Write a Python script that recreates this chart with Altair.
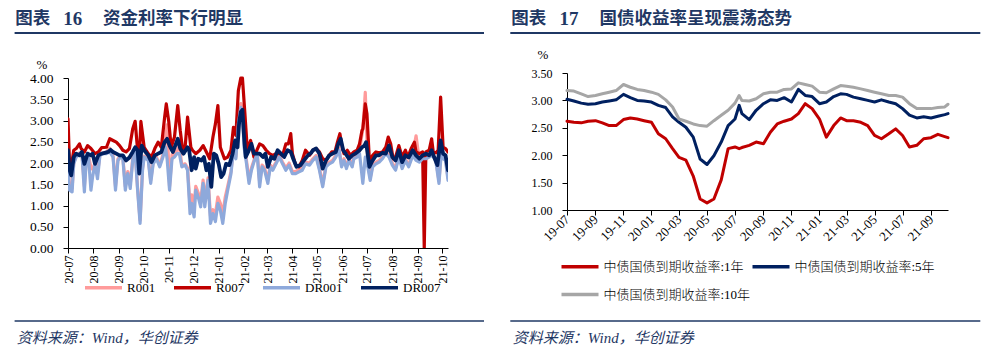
import altair as alt
import pandas as pd

# ---------------- fonts / colours ----------------
SERIF = "Liberation Serif"
MIXED = "Liberation Serif, Noto Sans CJK SC"
CJK = "Noto Sans CJK SC"
BLUE = "#1F3864"

# ---------------- texts ----------------
LEFT_TITLE_LABEL = "图表"
LEFT_TITLE_NUM = "16"
LEFT_TITLE_TEXT = "资金利率下行明显"
RIGHT_TITLE_LABEL = "图表"
RIGHT_TITLE_NUM = "17"
RIGHT_TITLE_TEXT = "国债收益率呈现震荡态势"
SOURCE_TEXT = "资料来源：Wind，华创证券"
UNIT = "%"

# ---------------- left panel data (days since 2020-07-01) ----------------
LEFT_START = "2020-07-01"
LEFT_END = "2021-10-08"
LEFT_SERIES = ["R001", "R007", "DR001", "DR007"]
LEFT_COLORS = ["#FF9B9B", "#C00000", "#8EA9DB", "#002060"]
LEFT_TICK_MONTHS = ["2020-07", "2020-08", "2020-09", "2020-10", "2020-11", "2020-12",
                    "2021-01", "2021-02", "2021-03", "2021-04", "2021-05", "2021-06",
                    "2021-07", "2021-08", "2021-09", "2021-10"]
LEFT_Y_TICKS = [0.0, 0.5, 1.0, 1.5, 2.0, 2.5, 3.0, 3.5, 4.0]

R007_DAYS = [0, 2, 4, 7, 10, 14, 16, 20, 24, 28, 33, 37, 41, 47, 51, 55, 59, 63, 67, 71,
             75, 79, 82, 85, 87, 89, 93, 98, 102, 106, 110, 114, 118, 120, 123, 126, 130, 134, 137, 140,
             143, 146, 150, 152, 156, 161, 165, 169, 173, 177, 180, 183, 186, 191, 195, 199, 202, 205, 208, 211,
             213, 216, 219, 223, 227,
             234, 238, 242, 246, 250, 254, 258, 262, 266, 269, 272, 274, 278, 282, 286, 290, 295, 299, 303, 307,
             311, 315, 319, 322, 326, 329, 332, 334, 337, 341, 345, 349, 353, 356, 359, 360, 363, 365, 368, 372,
             376, 380, 384, 388, 391, 394, 397, 400, 404, 408, 412, 415, 419, 423, 425, 429, 433, 435, 437, 441,
             444, 446, 449, 452, 455, 458, 461, 464]
R007_VALS = [3.04, 1.90, 1.91, 2.30, 2.34, 2.45, 2.34, 2.26, 2.41, 2.34, 2.22, 2.26, 2.36, 2.37, 2.57, 2.53, 2.49, 2.41, 2.30, 2.26,
             2.34, 2.80, 2.98, 2.30, 2.06, 2.98, 2.37, 2.22, 2.14, 2.34, 2.49, 2.37, 3.08, 3.39, 2.98, 2.37, 2.61, 3.35, 2.77, 2.30,
             2.37, 3.08, 2.37, 2.30, 2.22, 2.30, 2.41, 2.26, 2.10, 2.61, 2.92, 3.35, 2.37, 2.10, 2.14, 2.30, 2.84, 2.65, 3.70, 4.00,
             4.00, 3.16, 2.30, 2.53, 2.14,
             2.45, 2.41, 2.30, 2.22, 2.18, 2.22, 2.22, 2.18, 2.45, 2.45, 2.69, 2.22, 1.95, 1.91, 2.06, 2.30, 2.18, 2.30, 2.34, 2.26,
             2.10, 2.06, 2.18, 2.26, 2.26, 2.49, 2.69, 2.45, 2.22, 2.30, 2.18, 2.26, 2.30, 2.45, 2.77, 2.80, 3.39, 3.16, 2.06, 2.18,
             2.26, 2.24, 2.26, 2.37, 2.61, 2.45, 2.10, 2.14, 2.41, 2.14, 2.30, 2.14, 2.34, 2.49, 2.26, 2.22, 2.26, 0.00, 2.26, 2.30,
             2.57, 2.26, 2.24, 2.30, 3.55, 2.37, 2.34, 2.26]

DR007_DAYS = [0, 2, 4, 7, 10, 14, 17, 20, 24, 28, 30, 33, 37, 41, 45, 49, 52, 55, 59, 63,
              67, 71, 75, 79, 82, 85, 87, 90, 93, 98, 102, 106, 110, 114, 118, 121, 124, 128, 131, 134,
              137, 141, 146, 148, 151, 154, 156, 159, 163, 166, 169, 172, 175, 178, 181, 184, 187, 190, 193, 197,
              201, 204, 207, 209, 211, 213, 215, 217, 220, 224, 227, 231,
              234, 238, 241, 244, 248, 252, 256, 260, 264, 268, 272, 275, 279, 284, 288, 293, 297, 299, 303, 307,
              311, 315, 319, 323, 327, 330, 333, 336, 339, 343, 347, 351, 356, 359, 362, 364, 368, 372, 376, 380,
              384, 388, 392, 396, 400, 404, 408, 412, 416, 421, 425, 429, 433, 437, 441, 444, 447, 451, 455, 458,
              461, 464]
DR007_VALS = [2.30, 1.83, 1.71, 2.14, 2.22, 2.18, 2.26, 1.98, 2.22, 2.18, 2.22, 1.98, 2.18, 2.22, 2.24, 2.26, 2.31, 2.26, 2.22, 2.18,
              2.18, 2.06, 2.13, 2.26, 2.37, 2.30, 1.75, 2.41, 2.30, 2.18, 2.02, 2.18, 2.22, 2.26, 2.49, 2.57, 2.41, 2.26, 2.41, 2.57,
              2.34, 2.22, 2.37, 2.30, 1.83, 2.14, 1.87, 2.10, 2.06, 2.14, 1.83, 1.98, 1.44, 2.22, 2.18, 1.98, 1.67, 1.75, 1.98, 1.95,
              2.22, 2.53, 2.37, 2.96, 3.20, 3.25, 2.61, 2.14, 2.26, 2.45, 2.22, 2.22,
              2.22, 2.14, 2.22, 1.91, 2.14, 2.10, 2.30, 2.22, 2.14, 2.30, 2.26, 2.10, 1.91, 1.95, 2.06, 2.18, 2.24, 2.30, 2.34, 2.22,
              1.87, 2.06, 2.18, 2.22, 2.26, 2.45, 2.57, 2.30, 2.22, 2.10, 2.18, 2.22, 2.30, 2.37, 2.41, 2.49, 1.91, 2.06, 2.18, 2.18,
              2.24, 2.22, 2.41, 2.14, 2.06, 2.30, 2.02, 2.18, 2.13, 2.30, 2.18, 2.10, 2.18, 2.22, 2.18, 2.30, 2.14, 1.95, 2.53, 2.22,
              2.18, 1.83]

DR001_DAYS = [0, 2, 5, 7, 10, 12, 14, 17, 20, 22, 25, 28, 30, 33, 36, 39, 43, 47, 51, 55,
              58, 61, 64, 67, 70, 73, 76, 79, 82, 85, 88, 91, 93, 98, 101, 104, 108, 112, 116, 119,
              121, 124, 127, 130, 133, 136, 139, 143, 146, 149, 151, 154, 156, 159, 162, 165, 167, 171, 174, 177,
              180, 183, 186, 189, 192, 195, 199, 202, 205, 208, 211, 213, 215, 218, 221, 224, 227, 231,
              234, 237, 240, 244, 247, 250, 254, 258, 262, 266, 270, 274, 278, 282, 286, 290, 295, 299, 303, 307,
              311, 315, 319, 323, 327, 331, 334, 337, 340, 343, 347, 349, 353, 356, 360, 363, 366, 369, 372, 376,
              380, 384, 388, 392, 396, 400, 404, 408, 412, 416, 421, 425, 429, 433, 437, 441, 445, 449, 453, 456,
              458, 461, 464]
DR001_VALS = [1.83, 1.36, 1.32, 1.98, 2.14, 2.18, 2.22, 2.22, 1.32, 1.98, 2.14, 1.36, 1.67, 1.98, 1.63, 2.18, 2.22, 2.22, 2.26, 2.14,
              1.36, 2.06, 2.14, 2.10, 1.36, 1.75, 1.40, 2.06, 2.26, 1.36, 0.58, 1.83, 2.14, 2.06, 1.52, 1.98, 2.10, 1.91, 2.14, 2.37,
              2.10, 1.36, 2.10, 2.14, 2.22, 2.22, 1.91, 1.95, 1.83, 0.81, 1.05, 0.73, 1.36, 1.20, 0.97, 1.52, 0.97, 1.59, 0.58, 0.81,
              0.62, 1.05, 0.89, 0.58, 1.05, 1.36, 1.75, 2.30, 2.10, 2.92, 3.31, 3.16, 2.37, 1.98, 1.52, 1.83, 2.02, 2.22,
              1.44, 1.91, 1.83, 1.52, 1.91, 1.83, 1.98, 2.14, 1.98, 1.83, 1.95, 1.75, 1.75, 1.79, 1.83, 1.98, 1.95, 2.06, 2.14, 1.83,
              1.44, 1.91, 1.98, 2.02, 2.14, 2.30, 1.91, 2.06, 1.87, 2.06, 1.91, 2.10, 2.14, 2.22, 1.52, 2.14, 1.91, 1.59, 1.91, 1.98,
              2.02, 2.10, 2.22, 2.14, 1.95, 1.83, 2.14, 1.87, 2.06, 1.91, 2.18, 2.06, 2.02, 2.10, 2.10, 2.14, 2.18, 2.06, 1.52, 2.30,
              2.10, 2.06, 1.59]

R001_DAYS = DR001_DAYS
R001_VALS = [1.90, 1.45, 1.40, 2.00, 2.16, 2.20, 2.24, 2.24, 1.45, 2.00, 2.16, 1.90, 1.85, 2.00, 1.75, 2.20, 2.24, 2.26, 2.35, 2.18,
             1.45, 2.10, 2.16, 2.14, 1.45, 1.80, 1.50, 2.10, 2.30, 1.40, 0.65, 1.88, 2.16, 2.10, 1.60, 2.02, 2.14, 1.95, 2.20, 2.60,
             2.90, 1.45, 2.20, 2.18, 2.30, 2.40, 1.95, 1.98, 1.88, 1.00, 1.25, 1.05, 1.45, 1.30, 1.10, 1.60, 1.10, 1.65, 0.75, 0.90,
             0.80, 1.20, 1.05, 0.80, 1.20, 1.45, 1.80, 2.35, 2.15, 3.00, 3.40, 3.25, 2.45, 2.05, 1.60, 1.88, 2.06, 2.25,
             1.55, 1.95, 1.88, 1.60, 1.95, 1.88, 2.02, 2.18, 2.02, 1.88, 2.00, 1.80, 1.80, 1.85, 1.88, 2.02, 2.00, 2.10, 2.18, 1.88,
             1.50, 1.95, 2.02, 2.06, 2.18, 2.35, 1.95, 2.10, 1.92, 2.10, 1.95, 2.14, 2.18, 2.30, 2.80, 3.66, 2.00, 1.65, 1.95, 2.02,
             2.06, 2.14, 2.26, 2.18, 2.00, 1.88, 2.18, 1.92, 2.10, 1.95, 2.22, 2.64, 2.06, 2.14, 2.14, 2.18, 2.22, 2.10, 1.58, 2.35,
             2.15, 2.10, 1.65]

# ---------------- right panel data ----------------
RIGHT_END = "2021-10-08"
RIGHT_SERIES = ["中债国债到期收益率:1年", "中债国债到期收益率:5年", "中债国债到期收益率:10年"]
RIGHT_COLORS = ["#C00000", "#002060", "#A6A6A6"]
RIGHT_TICK_MONTHS = ["2019-07", "2019-09", "2019-11", "2020-01", "2020-03", "2020-05", "2020-07",
                     "2020-09", "2020-11", "2021-01", "2021-03", "2021-05", "2021-07", "2021-09"]
RIGHT_Y_TICKS = [1.0, 1.5, 2.0, 2.5, 3.0, 3.5]
RIGHT_DATES = ["2019-07-01", "2019-07-16", "2019-08-01", "2019-08-16", "2019-09-01", "2019-09-16",
               "2019-10-01", "2019-10-16", "2019-11-01", "2019-11-16", "2019-12-01", "2019-12-16",
               "2020-01-01", "2020-01-16", "2020-02-01", "2020-02-16", "2020-03-01", "2020-03-16",
               "2020-04-01", "2020-04-16", "2020-05-01", "2020-05-16", "2020-06-01", "2020-06-16",
               "2020-07-01", "2020-07-10", "2020-07-16", "2020-08-01", "2020-08-16", "2020-09-01", "2020-09-16",
               "2020-10-01", "2020-10-16", "2020-11-01", "2020-11-16", "2020-12-01", "2020-12-16",
               "2021-01-01", "2021-01-16", "2021-02-01", "2021-02-16", "2021-03-01", "2021-03-16",
               "2021-04-01", "2021-04-16", "2021-05-01", "2021-05-16", "2021-06-01", "2021-06-16",
               "2021-07-01", "2021-07-16", "2021-08-01", "2021-08-16", "2021-09-01", "2021-09-16",
               "2021-10-01", "2021-10-08"]
Y1_VALS = [2.62, 2.60, 2.59, 2.62, 2.63, 2.59, 2.54, 2.54, 2.65, 2.68, 2.66, 2.63,
           2.60, 2.39, 2.30, 2.12, 1.96, 1.91, 1.62, 1.20, 1.13, 1.20, 1.55, 2.12,
           2.15, 2.12, 2.14, 2.18, 2.24, 2.21, 2.42, 2.57, 2.62, 2.66, 2.76, 2.94, 2.85,
           2.66, 2.33, 2.54, 2.68, 2.63, 2.63, 2.60, 2.54, 2.36, 2.30, 2.39, 2.48,
           2.36, 2.15, 2.18, 2.30, 2.32, 2.38, 2.34, 2.32]
Y5_VALS = [3.02, 2.99, 2.95, 2.93, 2.94, 2.97, 2.99, 3.01, 3.11, 3.05, 3.00, 2.99,
           2.97, 2.91, 2.87, 2.70, 2.60, 2.51, 2.33, 1.93, 1.83, 1.99, 2.24, 2.54,
           2.66, 2.91, 2.76, 2.65, 2.82, 2.94, 3.01, 3.00, 3.05, 2.97, 3.20, 3.09, 3.07,
           2.94, 2.97, 3.07, 3.12, 3.11, 3.06, 3.03, 3.00, 2.97, 3.01, 2.97, 2.94,
           2.85, 2.73, 2.68, 2.70, 2.68, 2.71, 2.74, 2.76]
Y10_VALS = [3.18, 3.17, 3.12, 3.07, 3.09, 3.12, 3.15, 3.18, 3.29, 3.24, 3.20, 3.18,
            3.15, 3.11, 3.01, 2.88, 2.66, 2.62, 2.57, 2.54, 2.53, 2.63, 2.73, 2.82,
            2.95, 3.09, 3.00, 2.99, 3.03, 3.12, 3.15, 3.15, 3.20, 3.21, 3.32, 3.29, 3.26,
            3.15, 3.14, 3.21, 3.27, 3.26, 3.24, 3.21, 3.18, 3.15, 3.12, 3.09, 3.09,
            3.06, 2.94, 2.85, 2.85, 2.85, 2.87, 2.88, 2.93]


# ---------------- helpers ----------------
def dt(s):
    parts = [int(p) for p in s.split("-")]
    day = parts[2] if len(parts) > 2 else 1
    return alt.DateTime(year=parts[0], month=parts[1], date=day)


def left_frame(name, days, vals):
    start = pd.Timestamp(LEFT_START)
    return pd.DataFrame({"date": start + pd.to_timedelta(days, unit="D"),
                         "value": vals, "series": name})


def right_frame(name, vals):
    return pd.DataFrame({"date": pd.to_datetime(RIGHT_DATES), "value": vals, "series": name})


def text_layer(txt, x, y, size, font, color=BLUE, weight="normal", style="normal", align="left"):
    return alt.Chart(pd.DataFrame({"t": [txt]})).mark_text(
        align=align, baseline="middle", font=font, fontSize=size,
        fontWeight=weight, fontStyle=style, color=color
    ).encode(x=alt.value(x), y=alt.value(y), text="t:N")


def rule_layer(x1, x2, y, color=BLUE, width=1.5):
    return alt.Chart(pd.DataFrame({"a": [0]})).mark_rule(
        color=color, strokeWidth=width
    ).encode(x=alt.value(x1), x2=alt.value(x2), y=alt.value(y))


def decor(label, num, title, x_label, x_num, x_title, rx1, rx2, px, py):
    return [
        # white (background-coloured) top anchor: fixes the vertical placement of the panel
        rule_layer(rx1, rx1 + 10, -64.5, color="white", width=1),
        text_layer(label, x_label, -54, 17.5, MIXED, weight="bold"),
        text_layer(num, x_num, -54, 19, SERIF, weight="bold"),
        text_layer(title, x_title, -54, 17.5, MIXED, weight="bold"),
        rule_layer(rx1, rx2, -40, width=2),
        rule_layer(rx1, rx2, 248, width=1.5),
        text_layer(SOURCE_TEXT, x_label + 1.5, 264.5, 15, MIXED, style="italic"),
        text_layer(UNIT, px, py, 13, SERIF, color="black", align="center"),
    ]


axis_common = dict(grid=False, domainColor="black", tickColor="black", labelColor="black",
                   domainWidth=1, tickWidth=1, labelOverlap=False, title=None)

# ---------------- left chart ----------------
x_left = alt.X("date:T", title=None,
               scale=alt.Scale(domain=[dt(LEFT_START), dt(LEFT_END)]),
               axis=alt.Axis(values=[dt(m) for m in LEFT_TICK_MONTHS], format="%y-%m",
                             labelAngle=270, labelAlign="right", labelBaseline="middle",
                             labelFont=SERIF, labelFontSize=12, tickSize=5, labelPadding=2,
                             labelFlush=False, **axis_common))
y_left = alt.Y("value:Q", title=None,
               scale=alt.Scale(domain=[0, 4], range=[175, 5], nice=False, zero=False),
               axis=alt.Axis(values=LEFT_Y_TICKS, format=".2f", labelFont=SERIF, labelFontSize=13.5,
                             tickSize=5, labelPadding=10, **axis_common))
left_color = alt.Color("series:N",
                       scale=alt.Scale(domain=LEFT_SERIES, range=LEFT_COLORS),
                       legend=alt.Legend(orient="none", legendX=15, legendY=194, direction="horizontal",
                                         columns=4, title=None, symbolType="stroke", symbolSize=1369,
                                         symbolStrokeWidth=3.5, labelFont=SERIF, labelFontSize=13,
                                         labelColor="black", labelOffset=3, columnPadding=11,
                                         padding=0, labelLimit=0))
left_data = [
    (left_frame("R001", R001_DAYS, R001_VALS), 3.2),
    (left_frame("R007", R007_DAYS, R007_VALS), 3.2),
    (left_frame("DR001", DR001_DAYS, DR001_VALS), 3.2),
    (left_frame("DR007", DR007_DAYS, DR007_VALS), 3.8),
]
left_lines = [
    alt.Chart(df).mark_line(strokeWidth=w, strokeJoin="round", strokeCap="round", clip=True)
    .encode(x=x_left, y=y_left, color=left_color)
    for df, w in left_data
]
left = alt.layer(
    *left_lines,
    *decor(LEFT_TITLE_LABEL, LEFT_TITLE_NUM, LEFT_TITLE_TEXT, -52.7, -4.7, 35, -53.4, 416, -26, -8.5)
).properties(width=380, height=175)

# ---------------- right chart ----------------
x_right = alt.X("date:T", title=None,
                scale=alt.Scale(domain=[dt(RIGHT_DATES[0]), dt(RIGHT_END)]),
                axis=alt.Axis(values=[dt(m) for m in RIGHT_TICK_MONTHS], format="%y-%m",
                              labelAngle=315, labelAlign="right", labelBaseline="middle",
                              labelFont=SERIF, labelFontSize=13, tickSize=5, labelPadding=2,
                              labelFlush=False, **axis_common))
y_right = alt.Y("value:Q", title=None,
                scale=alt.Scale(domain=[1, 3.5], nice=False, zero=False),
                axis=alt.Axis(values=RIGHT_Y_TICKS, format=".2f", labelFont=SERIF, labelFontSize=12,
                              tickSize=5, labelPadding=10, **axis_common))
right_color = alt.Color("series:N",
                        scale=alt.Scale(domain=RIGHT_SERIES, range=RIGHT_COLORS),
                        legend=alt.Legend(orient="none", legendX=-7.5, legendY=173, direction="horizontal",
                                          columns=2, title=None, symbolType="stroke", symbolSize=1369,
                                          symbolStrokeWidth=3.5, labelFont=MIXED, labelFontSize=13,
                                          labelFontWeight=300,
                                          labelColor="black", labelOffset=3, columnPadding=-6,
                                          rowPadding=0, padding=0, labelLimit=0))
right_lines = [
    alt.Chart(right_frame(name, vals)).mark_line(strokeWidth=3, strokeJoin="round", strokeCap="round")
    .encode(x=x_right, y=y_right, color=right_color)
    for name, vals in zip(RIGHT_SERIES, [Y1_VALS, Y5_VALS, Y10_VALS])
]
right = alt.layer(
    *right_lines,
    *decor(RIGHT_TITLE_LABEL, RIGHT_TITLE_NUM, RIGHT_TITLE_TEXT, -55.7, -7.4, 32.6, -56.7, 413.3, -24, -18)
).properties(width=381, height=137)

chart = alt.hconcat(
    left, right, spacing=119, bounds="flush",
    padding={"left": 5, "top": 0, "right": 0, "bottom": 0}
).resolve_scale(color="independent", x="independent", y="independent").resolve_legend(
    color="independent"
).properties(background="white").configure_view(stroke=None)

chart.save("out.html", embed_options={"renderer": "svg", "actions": False})
